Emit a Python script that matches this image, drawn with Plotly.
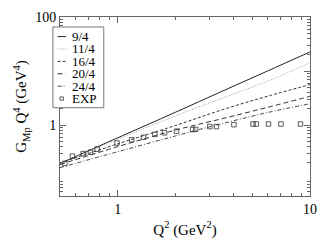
import plotly.graph_objects as go

# ---- data ----
q2_theory = [0.5, 1.0, 2.0, 3.5, 6.0, 10.0]
curve_9_4 = [0.196, 0.585, 1.74, 4.26, 10.0, 22.6]
curve_11_4 = [0.194, 0.551, 1.49, 3.16, 6.46, 14.3]
curve_16_4 = [0.199, 0.452, 0.988, 1.93, 3.42, 5.62]
curve_20_4 = [0.187, 0.401, 0.813, 1.32, 2.13, 3.42]
curve_24_4 = [0.164, 0.323, 0.634, 1.07, 1.71, 2.49]

q2_exp = [0.53, 0.58, 0.66, 0.72, 0.78, 0.99, 1.18, 1.36, 1.56, 1.75, 2.02,
          2.45, 2.54, 3.01, 3.26, 4.02, 5.05, 5.25, 6.08, 7.06, 8.92]
gmp_exp = [0.196, 0.267, 0.298, 0.316, 0.36, 0.467, 0.536, 0.597, 0.673, 0.722, 0.773,
           0.83, 0.837, 0.942, 0.942, 1.02, 1.05, 1.05, 1.05, 1.05, 1.05]

series_names = ["9/4", "11/4", "16/4", "20/4", "24/4", "EXP"]
x_tickvals = [1, 10]
x_ticktext = ["1", "10"]
y_tickvals = [1, 10, 100]
y_ticktext = ["1", "", "100"]   # the "10" label sits behind the legend box

# ---- styles ----
FONT = "Liberation Serif"
styles = [
    dict(color="#222222", width=1.0, dash="solid"),
    dict(color="#9a9a9a", width=1.0, dash="1px,1.5px"),
    dict(color="#333333", width=1.0, dash="3px,2px"),
    dict(color="#333333", width=1.0, dash="5px,3px"),
    dict(color="#444444", width=1.0, dash="4px,2px,1px,2px"),
]
curves = [curve_9_4, curve_11_4, curve_16_4, curve_20_4, curve_24_4]

fig = go.Figure()
for name, ys, st in zip(series_names[:5], curves, styles):
    fig.add_trace(go.Scatter(x=q2_theory, y=ys, mode="lines", name=name,
                             line=dict(shape="spline", **st), showlegend=False))
fig.add_trace(go.Scatter(x=q2_exp, y=gmp_exp, mode="markers", name=series_names[5],
                         marker=dict(symbol="square-open", size=4.5, color="#333333",
                                     line=dict(width=0.8, color="#333333")),
                         showlegend=False))

# ---- plot geometry ----
L, R, T, B = 60, 10, 10, 43
W, H = 327, 245
pw, ph = W - L - R, H - T - B


def px(xp):
    return (xp - L) / pw


def py(yp):
    return (H - B - yp) / ph


# manual legend box
shapes = [dict(type="rect", xref="paper", yref="paper", layer="above",
               x0=px(52.7), x1=px(105), y0=py(107.3), y1=py(20.7),
               line=dict(color="#777777", width=1), fillcolor="white")]
annotations = []
rows = [31, 44.3, 57.6, 70.9, 84.2, 97.5]
for i, name in enumerate(series_names):
    yy = py(rows[i])
    if i < 5:
        st = styles[i]
        shapes.append(dict(type="line", xref="paper", yref="paper", layer="above",
                           x0=px(57.5), x1=px(66), y0=yy, y1=yy,
                           line=dict(color=st["color"], width=st["width"],
                                     dash=st["dash"])))
    else:
        shapes.append(dict(type="rect", xref="paper", yref="paper", layer="above",
                           x0=px(60), x1=px(63.5), y0=py(rows[i] + 1.75),
                           y1=py(rows[i] - 1.75),
                           line=dict(color="#333333", width=0.8)))
    annotations.append(dict(x=px(70), y=yy, xref="paper", yref="paper", text=name,
                            showarrow=False, xanchor="left", yanchor="middle",
                            font=dict(family=FONT, size=13, color="black")))

axis_common = dict(showline=True, linecolor="#666666", linewidth=1, mirror="ticks",
                   ticks="inside", ticklen=6, tickcolor="#666666", showgrid=False,
                   zeroline=False,
                   tickfont=dict(family=FONT, size=14, color="black"))

fig.update_layout(
    width=W, height=H,
    margin=dict(l=L, r=R, t=T, b=B),
    paper_bgcolor="white", plot_bgcolor="white",
    shapes=shapes, annotations=annotations,
    xaxis=dict(type="log", range=[-0.30103, 1.0], tickvals=x_tickvals,
               ticktext=x_ticktext,
               minor=dict(tickvals=[0.6, 0.7, 0.8, 0.9, 2, 3, 4, 5, 6, 7, 8, 9],
                          ticks="inside", ticklen=3, tickcolor="#666666"),
               title=dict(text="Q<sup>2</sup> (GeV<sup>2</sup>)",
                          font=dict(family=FONT, size=15, color="black"), standoff=8),
               **axis_common),
    yaxis=dict(type="log", range=[-1.31, 2.0], tickvals=y_tickvals,
               ticktext=y_ticktext,
               minor=dict(tickvals=[0.05, 0.06, 0.07, 0.08, 0.09,
                                    0.2, 0.3, 0.4, 0.5, 0.6, 0.7, 0.8, 0.9,
                                    2, 3, 4, 5, 6, 7, 8, 9,
                                    20, 30, 40, 50, 60, 70, 80, 90],
                          ticks="inside", ticklen=3, tickcolor="#666666"),
               title=dict(text="G<sub>Mp</sub> Q<sup>4</sup> (GeV<sup>4</sup>)",
                          font=dict(family=FONT, size=15, color="black"), standoff=4),
               **axis_common),
)

fig.write_html("out.html", config={"displayModeBar": False},
               post_script="document.body.style.margin='0';document.body.style.padding='0';")
